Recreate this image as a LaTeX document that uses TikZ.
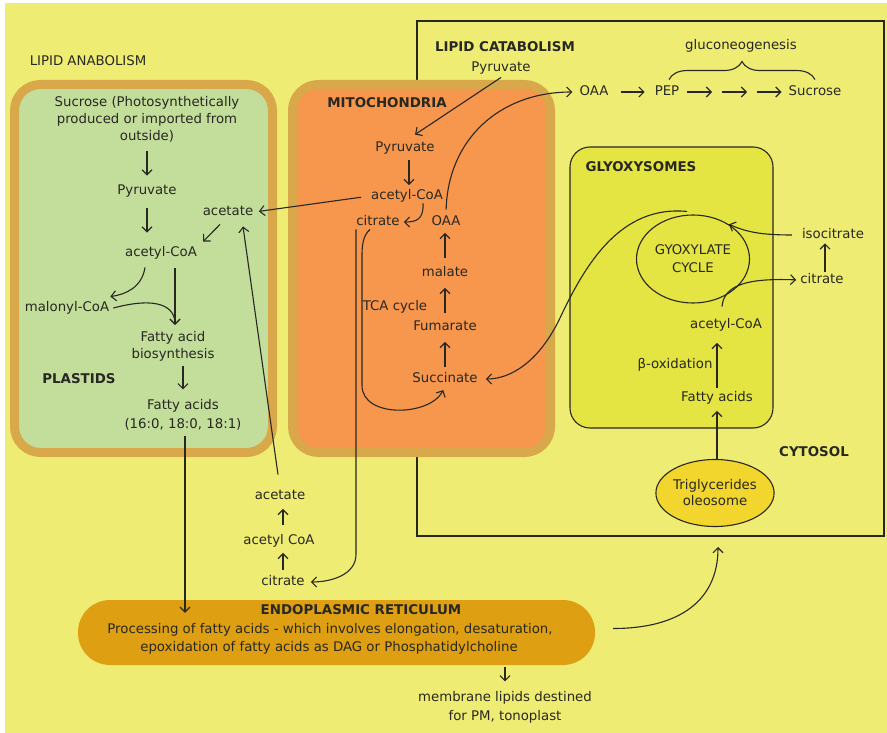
\documentclass[tikz,border=0pt]{standalone}
\usepackage{fontspec}
\setmainfont{DejaVu Sans}
\usetikzlibrary{arrows.meta,shapes.geometric,decorations.pathreplacing}
\definecolor{bg}{RGB}{239,236,115}
\definecolor{tanb}{RGB}{216,168,74}
\definecolor{plg}{RGB}{195,221,155}
\definecolor{mor}{RGB}{247,150,77}
\definecolor{gly}{RGB}{228,228,66}
\definecolor{ole}{RGB}{243,214,45}
\definecolor{erg}{RGB}{222,160,18}
\definecolor{ink}{RGB}{40,40,35}
\newcommand\myreg{\fontsize{13.3}{17}\selectfont}
\newcommand\mybold{\fontsize{13.4}{17}\selectfont\bfseries}
\tikzset{
  lbl/.style={font=\myreg, text=ink, inner sep=1pt, text height=9.5pt, text depth=3pt},
  mlbl/.style={font=\myreg, text=ink, inner sep=1pt, align=center},
  blbl/.style={font=\mybold, text=ink, inner sep=1pt, text height=9.5pt, text depth=3pt},
  arr/.style={draw=ink, line width=1.1pt, -{Straight Barb[length=5pt,width=10pt]}},
  organelle/.style={draw=tanb, line width=9pt, rounded corners=26pt},
}
\begin{document}
\begin{tikzpicture}[x=1pt,y=-1pt]
\useasboundingbox (0,0) rectangle (887,733);
\fill[white] (0,0) rectangle (887,733);
\fill[bg] (5,3) rectangle (887,733);
% compartments
\draw[ink, line width=1.1pt] (417,21) rectangle (884,536);
\draw[organelle, fill=plg] (14.5,84.5) rectangle (272.5,452.5);
\draw[organelle, fill=mor] (292.5,84.5) rectangle (550.5,452.5);
\draw[ink, line width=1.1pt, fill=gly, rounded corners=20pt] (570,147) rectangle (773,428);
\node[fill=erg, rounded corners=32pt, minimum width=517pt, minimum height=65pt, inner sep=0pt] (er) at (336.5,632.5) {};
\node[mlbl, font=\fontsize{13.3}{18}\selectfont, draw=ink, line width=1.1pt, ellipse, minimum width=113pt, minimum height=88pt, inner sep=0pt] (gc) at (693,259) {GYOXYLATE\\CYCLE};
\node[mlbl, font=\fontsize{13.3}{16}\selectfont, draw=ink, line width=1.1pt, ellipse, fill=ole, minimum width=115pt, minimum height=67pt, inner sep=0pt] (ol) at (715,493) {Triglycerides\\oleosome};
% plastid texts
\node[lbl] (anab) at (88,62) {LIPID ANABOLISM};
\node[mlbl] (sucr) at (147,119) {Sucrose (Photosynthetically\\produced or imported from\\outside)};
\node[lbl] (pyr1) at (147,191) {Pyruvate};
\node[lbl] (ace1) at (228,212) {acetate};
\node[lbl] (acoa1) at (161,253) {acetyl-CoA};
\node[lbl] (mal) at (67,308) {malonyl-CoA};
\node[mlbl] (fab) at (173,346) {Fatty acid\\biosynthesis};
\node[blbl] (plast) at (79,380) {PLASTIDS};
\node[mlbl, font=\fontsize{13.3}{19}\selectfont] (fa1) at (183,415) {Fatty acids\\(16:0, 18:0, 18:1)};
% mitochondria texts
\node[blbl] (mito) at (387,104) {MITOCHONDRIA};
\node[lbl] (pyr2) at (405,148) {Pyruvate};
\node[lbl] (acoa2) at (407,196) {acetyl-CoA};
\node[lbl] (cit2) at (378,222) {citrate};
\node[lbl] (oaa2) at (446,222) {OAA};
\node[lbl] (malate) at (445,273) {malate};
\node[lbl] (tca) at (395,307) {TCA cycle};
\node[lbl] (fum) at (445,327) {Fumarate};
\node[lbl] (succ) at (445,379) {Succinate};
% catabolism texts
\node[blbl] (cat) at (505,48) {LIPID CATABOLISM};
\node[lbl] (pyr3) at (501,68) {Pyruvate};
\node[lbl] (oaa3) at (594,92) {OAA};
\node[lbl] (pep) at (667,92) {PEP};
\node[lbl] (sucr2) at (815,92) {Sucrose};
\node[lbl] (glu) at (741,46) {gluconeogenesis};
\node[blbl] (glyo) at (641,168) {GLYOXYSOMES};
\node[lbl] (iso) at (833,235) {isocitrate};
\node[lbl] (cit3) at (822,280) {citrate};
\node[lbl] (acoa3) at (726,325) {acetyl-CoA};
\node[lbl] (box) at (675,365) {β-oxidation};
\node[lbl] (fa3) at (717,398) {Fatty acids};
\node[blbl] (cyto) at (814,453) {CYTOSOL};
% bottom texts
\node[lbl] (ace4) at (280,496) {acetate};
\node[lbl] (acoa4) at (279,541) {acetyl CoA};
\node[lbl] (cit4) at (283,582) {citrate};
\node[blbl] (ert) at (361,611) {ENDOPLASMIC RETICULUM};
\node[lbl] (erl1) at (330,630) {Processing of fatty acids - which involves elongation, desaturation,};
\node[lbl] (erl2) at (329,648) {epoxidation of fatty acids as DAG or Phosphatidylcholine};
\node[mlbl, font=\fontsize{13.3}{19}\selectfont] (mem) at (505,707) {membrane lipids destined\\for PM, tonoplast};
% helper coordinates
\coordinate (fabin) at ([xshift=2pt,yshift=5pt]fab.north);
\coordinate (q1) at (712,92);
\coordinate (q2) at (722,92);
\coordinate (q3) at (747,92);
\coordinate (q4) at (757,92);
\coordinate (cy) at (718,547);
% plastid arrows
\draw[arr, shorten <=8pt, shorten >=8pt] (sucr.south) -- (pyr1.north);
\draw[arr, shorten <=10pt, shorten >=13pt] (pyr1.south) -- (pyr1.south |- acoa1.north);
\draw[arr, shorten <=8pt] (fabin |- acoa1.south) -- (fabin);
\draw[arr] ([xshift=3pt]mal.east) .. controls +(45,-12) and +(0,-18) .. (fabin);
\draw[arr] ([xshift=-16pt,yshift=-7pt]acoa1.south) .. controls +(-3,20) and +(15,-2) .. ([yshift=4pt]mal.north east);
\draw[arr, shorten <=4pt, shorten >=9pt] (fa1.north |- fab.south) -- (fa1.north);
\draw[arr, shorten <=4pt, shorten >=-13pt] ([xshift=2pt]fa1.south) -- ([xshift=2pt]fa1.south |- er.north);
\draw[arr, shorten <=9pt, shorten >=4.5pt] (acoa2.west) -- (ace1.east);
\draw[arr] ([xshift=-8pt,yshift=-5pt]ace1.south) -- ([xshift=5pt,yshift=4pt]acoa1.north east);
\draw[arr] ([xshift=-2pt,yshift=14pt]ace4.north) -- ([xshift=15pt,yshift=-7pt]ace1.south);
% bottom chain
\draw[arr, shorten <=8.5pt, shorten >=5.5pt] ([xshift=4pt]acoa4.north) -- ([xshift=4pt]acoa4.north |- ace4.south);
\draw[arr, shorten <=4.5pt, shorten >=4.5pt] (cit4.north) -- (cit4.north |- acoa4.south);
% mitochondria arrows
\draw[arr, shorten <=4.5pt, shorten >=3.5pt] ([xshift=4pt]pyr2.south) -- ([xshift=4pt]pyr2.south |- acoa2.north);
\draw[arr, shorten <=7.5pt, shorten >=3.5pt] (malate.north) -- (malate.north |- oaa2.south);
\draw[arr, shorten <=6.5pt, shorten >=7.5pt] (fum.north) -- (fum.north |- malate.south);
\draw[arr, shorten <=4.5pt, shorten >=7.5pt] (succ.north) -- (succ.north |- fum.south);
\draw[arr] ([yshift=-2pt]pyr3.south) -- ([xshift=10pt,yshift=6pt]pyr2.north);
\draw[arr, shorten >=3pt] ([xshift=16pt]acoa2.south) .. controls +(1,17) and +(14,0) .. (cit2.east);
\draw[arr, shorten <=5pt, shorten >=6pt] (oaa2.north) .. controls +(2,-75) and +(-79,0) .. (oaa3.west);
\draw[arr, shorten >=5pt] ([xshift=-22pt]cit2.south) -- ++(0,325) .. controls +(0,20) and +(26,0) .. (cit4.east);
\draw[arr, shorten >=4pt] ([xshift=-8pt]cit2.south) .. controls +(-7,6) and +(0,-10) .. ++(-8,26) -- ++(0,130) .. controls +(0,33) and +(-15,30) .. (succ.south);
\draw[arr, shorten >=7pt] ([xshift=-6pt,yshift=3pt]gc.north) .. controls (620,205) and (585,265) .. (560,318) .. controls (540,360) and (512,379) .. (succ.east);
% gluconeogenesis
\draw[arr, shorten <=11pt, shorten >=9pt] (oaa3.east) -- (pep.west);
\draw[arr, shorten <=7pt] (pep.east) -- (q1);
\draw[arr] (q2) -- (q3);
\draw[arr, shorten >=6pt] (q4) -- (sucr2.west);
\draw[ink, line width=1.1pt, decorate, decoration={brace, amplitude=18pt}] ([xshift=2pt,yshift=5pt]pep.north) -- ([yshift=5pt]sucr2.north);
% glyoxysome arrows
\draw[arr, shorten <=9pt, shorten >=1pt] (iso.west) .. controls +(-40,0) and +(18,8) .. (gc.45);
\draw[arr, shorten >=3pt] ([xshift=-4pt,yshift=11pt]acoa3.north) .. controls +(2,-22) and +(-51,-2) .. (cit3.west);
\draw[arr, shorten <=1pt, shorten >=1pt] ([xshift=3pt]cit3.north) -- ([xshift=3pt]cit3.north |- iso.south);
\draw[arr, shorten <=3pt, shorten >=10.5pt] (fa3.north) -- (fa3.north |- acoa3.south);
\draw[arr, shorten >=5.5pt] ([xshift=2pt]ol.north) -- ([xshift=2pt]ol.north |- fa3.south);
% ER arrows
\draw[arr, shorten <=2pt, shorten >=8.5pt] (er.south -| mem.north) -- (mem.north);
\draw[arr] ([xshift=18pt,yshift=4pt]er.east) .. controls +(67,0) and +(0,53) .. (cy);
\end{tikzpicture}
\end{document}
